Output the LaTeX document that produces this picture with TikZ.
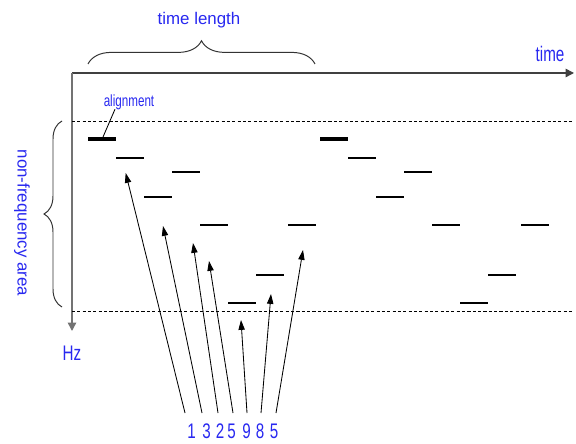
\documentclass[tikz,border=0pt]{standalone}
\usepackage{fontspec}
\usepackage{tikz}
\usetikzlibrary{arrows.meta,decorations.pathreplacing,calc}
\newfontfamily\labelfont{Liberation Sans}
\newfontfamily\narrowfont[FakeStretch=0.72]{Liberation Sans}
\definecolor{lblue}{RGB}{40,40,240}

\begin{document}
\begin{tikzpicture}[x=0.025cm, y=-0.025cm,
  every node/.style={text=lblue, inner sep=1pt},
  bigtext/.style={font=\narrowfont\fontsize{15}{16}\selectfont},
  tone/.style={line width=0.9pt},
  keytone/.style={line width=2.8pt},
  guide/.style={line width=0.7pt, dash pattern=on 2.2pt off 1.6pt},
  timeaxis/.style={line width=1.1pt, -{Triangle[length=6pt,width=6pt]}},
  pointer/.style={line width=0.6pt, -{Triangle[length=7pt,width=4.5pt]}},
  bracket/.style={decorate, decoration={brace, amplitude=#1}, line width=0.7pt, black!80}]
				\useasboundingbox (0,0) rectangle (576,444);
				
				% Axes
				\coordinate (o) at (72,73);
				\coordinate (tend) at (574,73);
				\coordinate (hend) at (72,331);
				\draw[timeaxis, black!75] (o) -- (tend);
				\draw[timeaxis, black!55] (o) -- (hend);
				\node[bigtext] (time) at (550,54) {time};
				\node[bigtext] (hz) at (72,353) {Hz};
				
				% Area limits
				\draw[guide] (72,121) -- (574,121);
				\draw[guide] (72,311.5) -- (574,311.5);
				
				% Braces
				\draw[bracket=16.5pt] (88,64) -- (315,64);
				\node[font=\labelfont\fontsize{12}{13}\selectfont] (len) at (199,20.5) {time length};
				\draw[bracket=12.8pt] (62,307) -- (62,121);
				\node[font=\labelfont\fontsize{12}{13}\selectfont, rotate=-90] (area) at (22,223) {non-frequency area};
				
				% First period
				\draw[keytone] (88,139) -- (116,139);
				\draw[tone] (116,158) -- (144,158);
				\draw[tone] (144,197) -- (172,197);
				\draw[tone] (172,172) -- (200,172);
				\draw[tone] (200,225) -- (228,225);
				\draw[tone] (228,303) -- (256,303);
				\draw[tone] (256,275) -- (284,275);
				\draw[tone] (288,225) -- (316,225);
				
				% Second period
				\draw[keytone] (320,139) -- (348,139);
				\draw[tone] (348,158) -- (376,158);
				\draw[tone] (376,197) -- (404,197);
				\draw[tone] (404,172) -- (432,172);
				\draw[tone] (432,225) -- (460,225);
				\draw[tone] (460,303) -- (488,303);
				\draw[tone] (488,275) -- (516,275);
				\draw[tone] (521,225) -- (549,225);
				
				% Alignment mark
				\node[font=\narrowfont\fontsize{11.5}{12}\selectfont] (alg) at (129,102) {alignment};
				\coordinate (algtip) at (103,137);
				\draw[line width=0.6pt] ($(alg.south)+(-14,-2)$) -- (algtip);
				
				% Sequence
				\node[bigtext, inner sep=0pt] (d1) at (191.7,431.5) {1};
				\node[bigtext, inner sep=0pt] (d2) at (206.7,431.5) {3};
				\node[bigtext, inner sep=0pt] (d3) at (220,431.5) {2};
				\node[bigtext, inner sep=0pt] (d4) at (231.7,431.5) {5};
				\node[bigtext, inner sep=0pt] (d5) at (246.7,431.5) {9};
				\node[bigtext, inner sep=0pt] (d6) at (260,431.5) {8};
				\node[bigtext, inner sep=0pt] (d7) at (274,431.5) {5};
				
				\coordinate (s1) at (185,413);
				\coordinate (s2) at (202,413);
				\coordinate (s3) at (218,413);
				\coordinate (s4) at (233,413);
				\coordinate (s5) at (247,413);
				\coordinate (s6) at (261,413);
				\coordinate (s7) at (276,413);
				\coordinate (t1) at (125.7,173);
				\coordinate (t2) at (163,226);
				\coordinate (t3) at (193,243);
				\coordinate (t4) at (209,261);
				\coordinate (t5) at (241,320);
				\coordinate (t6) at (271,294);
				\coordinate (t7) at (303,250);
				\draw[pointer] (s1) -- (t1);
				\draw[pointer] (s2) -- (t2);
				\draw[pointer] (s3) -- (t3);
				\draw[pointer] (s4) -- (t4);
				\draw[pointer] (s5) -- (t5);
				\draw[pointer] (s6) -- (t6);
				\draw[pointer] (s7) -- (t7);
			\end{tikzpicture}
\end{document}
